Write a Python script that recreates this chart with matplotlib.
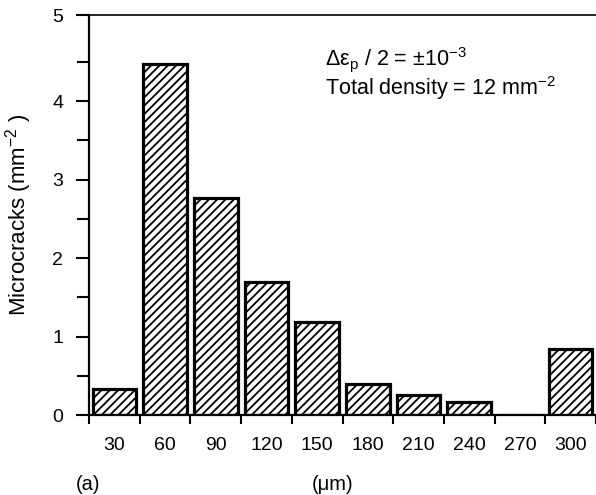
import matplotlib
matplotlib.use("Agg")
import matplotlib.pyplot as plt
import numpy as np

plt.rcParams['font.family'] = ['Liberation Sans', 'DejaVu Sans']
plt.rcParams['mathtext.fontset'] = 'custom'
plt.rcParams['mathtext.rm'] = 'Liberation Sans'
plt.rcParams['mathtext.it'] = 'Liberation Sans:italic'
plt.rcParams['hatch.linewidth'] = 1.3

# Data
sizes = ['30', '60', '90', '120', '150', '180', '210', '240', '270', '300']
microcracks = [0.33, 4.48, 2.77, 1.69, 1.18, 0.39, 0.26, 0.16, 0.0, 0.84]
y_ticks = [0, 1, 2, 3, 4]
y_top = 5.1

fig = plt.figure(figsize=(5.96, 4.95), dpi=100)
ax = fig.add_axes([89/596, 1 - 415/495, 507/596, 400/495])

pos = np.arange(len(sizes)) + 0.5
ax.bar(pos, microcracks, width=0.86, color='white', edgecolor='black',
       linewidth=2.3, hatch='////', zorder=2)

ax.set_xlim(0, len(sizes))
ax.set_ylim(0, y_top)

# x ticks: boundaries (marks), labels at centres
ax.set_xticks(np.arange(len(sizes) + 1))
ax.set_xticklabels([])
ax.set_xticks(pos, minor=True)
ax.set_xticklabels(sizes, minor=True)
ax.tick_params(axis='x', which='major', direction='out', length=6.5, width=1.5)
ax.tick_params(axis='x', which='minor', length=0, pad=15.5, labelsize=14)

# y ticks
ax.set_yticks(y_ticks + [y_top])
ax.set_yticklabels([str(v) for v in y_ticks] + ['5'])
ax.set_yticks(np.arange(0.5, 5, 1.0), minor=True)
ax.tick_params(axis='y', which='major', direction='out', length=9.5, width=1.5,
               pad=9, labelsize=14)
ax.tick_params(axis='y', which='minor', direction='out', length=8.5, width=1.5)

for s in ['left', 'bottom']:
    ax.spines[s].set_linewidth(1.6)
ax.spines['top'].set_linewidth(1.2)
ax.spines['right'].set_visible(False)

ax.set_ylabel('Microcracks (mm$^{\\mathregular{-2}}$ )', fontsize=16)
ax.yaxis.set_label_coords(-0.108, 0.5)
ax.set_xlabel('(\u03bcm)', fontsize=14.5)
ax.xaxis.set_label_coords(0.481, -0.150)

ax.text(0.4655, 0.874, '\u0394\u03b5$_{\\mathregular{p}}$ / 2 = \u00b110$^{\\mathregular{-3}}$',
        transform=ax.transAxes, fontsize=15.5, ha='left', va='baseline')
ax.text(0.4655, 0.80, 'Total density = 12 mm$^{\\mathregular{-2}}$',
        transform=ax.transAxes, fontsize=15.5, ha='left', va='baseline')

fig.text(76/596, 1 - 484/495, '(a)', fontsize=14.5, ha='left', va='center')

fig.savefig('out.png', dpi=100)
